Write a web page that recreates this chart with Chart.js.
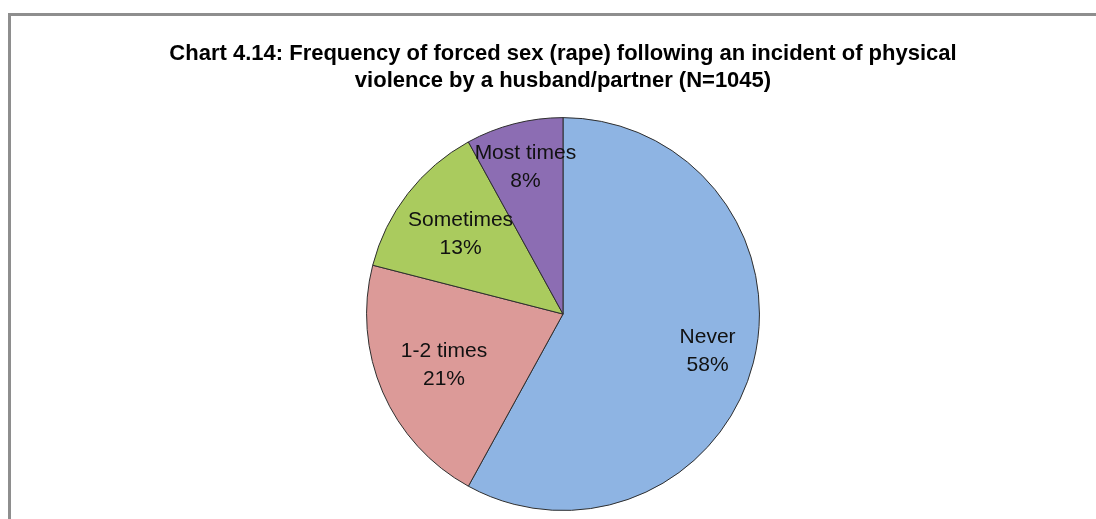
<!DOCTYPE html>
<html>
<head>
<meta charset="utf-8">
<title>Chart 4.14</title>
<script src="https://cdn.jsdelivr.net/npm/chart.js@4.4.1/dist/chart.umd.min.js"></script>
<style>
  html, body { margin: 0; padding: 0; background: #fff; }
  #wrap { position: relative; width: 1096px; height: 519px; overflow: hidden; }
  #frame {
    position: absolute; left: 8px; top: 13px; width: 1200px; height: 600px;
    border-top: 3px solid #8e8e8e; border-left: 3px solid #8e8e8e;
  }
  #pieChart { position: absolute; left: 0; top: 0; }
</style>
</head>
<body>
<div id="wrap">
  <div id="frame"></div>
  <canvas id="pieChart" width="1096" height="519"></canvas>
</div>
<script>
// Frequency of forced sex after physical violence, shares in %
const categories = ["Never", "1-2 times", "Sometimes", "Most times"];
const shares     = [58, 21, 13, 8];

const SLICE_COLORS = ["#8eb4e3", "#dc9a98", "#aacb5e", "#8c6db3"];
// how far out (fraction of radius) each slice label sits
const LABEL_RADIUS = [0.76, 0.66, 0.66, 0.77];

const LABEL_FONT = "21px 'Liberation Sans', Arial, sans-serif";

// ── Slice labels: "Name" over "NN%" inside each slice ─────────────────────────
const sliceLabels = {
  id: "sliceLabels",
  afterDatasetsDraw(chart) {
    const { ctx } = chart;
    const arcs = chart.getDatasetMeta(0).data;
    ctx.save();
    ctx.font = LABEL_FONT;
    ctx.fillStyle = "#111";
    ctx.textAlign = "center";
    ctx.textBaseline = "middle";
    arcs.forEach((arc, i) => {
      const p = arc.getProps(["x", "y", "startAngle", "endAngle", "outerRadius"], true);
      const mid = (p.startAngle + p.endAngle) / 2;
      const r = p.outerRadius * LABEL_RADIUS[i];
      const cx = p.x + Math.cos(mid) * r;
      const cy = p.y + Math.sin(mid) * r;
      ctx.fillText(categories[i], cx, cy - 14);
      ctx.fillText(shares[i] + "%", cx, cy + 14);
    });
    ctx.restore();
  },
};

new Chart(document.getElementById("pieChart").getContext("2d"), {
  type: "pie",
  data: {
    labels: categories,
    datasets: [{
      data:            shares,
      backgroundColor: SLICE_COLORS,
      borderColor:     "#2e2e2e",
      borderWidth:     1,
    }],
  },
  options: {
    responsive: false,
    animation: false,
    layout: { padding: { left: 30, right: 0, top: 0, bottom: 8 } },
    plugins: {
      legend:  { display: false },
      tooltip: { enabled: false },
      title: {
        display: true,
        text: [
          "Chart 4.14: Frequency of forced sex (rape) following an incident of physical",
          "violence by a husband/partner (N=1045)",
        ],
        color: "#000",
        font: { family: "'Liberation Sans Narrow', 'Arial Narrow', sans-serif", size: 22, weight: "bold", lineHeight: 1.23 },
        padding: { top: 40, bottom: 23 },
      },
    },
  },
  plugins: [sliceLabels],
});
</script>
</body>
</html>
